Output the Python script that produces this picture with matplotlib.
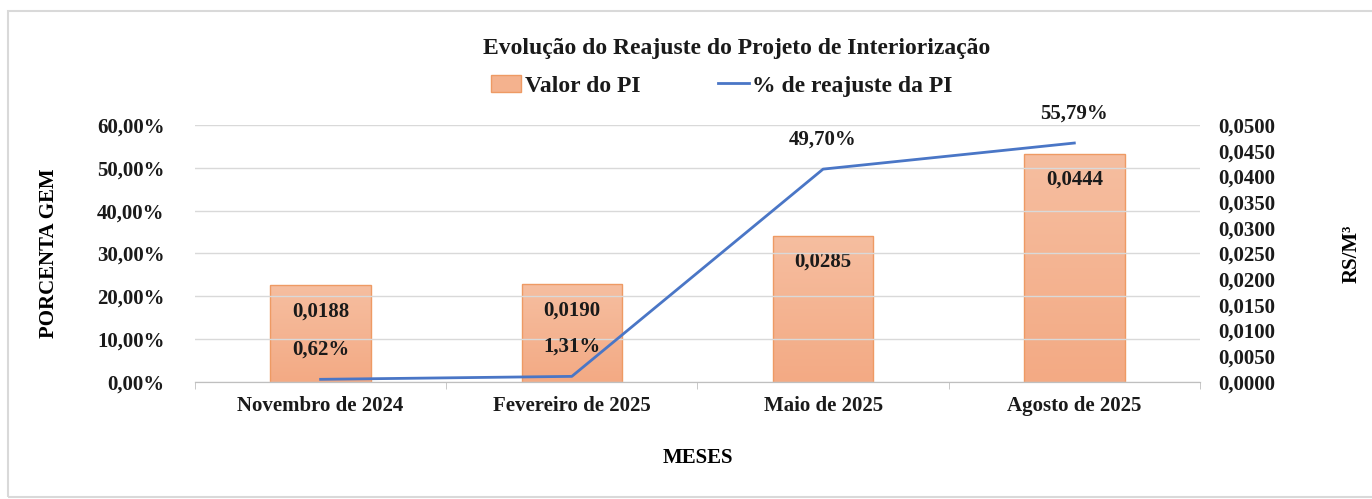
import matplotlib.pyplot as plt
from matplotlib.patches import Rectangle
from matplotlib.lines import Line2D
from matplotlib.colors import LinearSegmentedColormap
import numpy as np

meses = ['Novembro de 2024', 'Fevereiro de 2025', 'Maio de 2025', 'Agosto de 2025']
valor_pi = [0.0188, 0.0190, 0.0285, 0.0444]
reajuste_pct = [0.62, 1.31, 49.70, 55.79]

plt.rcParams['font.family'] = ['Liberation Serif', 'DejaVu Serif']
plt.rcParams['font.weight'] = 'bold'
plt.rcParams['text.color'] = '#1a1a1a'
plt.rcParams['xtick.color'] = '#1a1a1a'
plt.rcParams['ytick.color'] = '#1a1a1a'

FS = 15

def br(v, dec):
    return f'{v:.{dec}f}'.replace('.', ',')

fig = plt.figure(figsize=(13.72, 4.99), dpi=100)
fig.patches.append(Rectangle((8 / 1372, 2 / 499), 1.0, 486 / 499, transform=fig.transFigure,
                             fill=False, edgecolor='#d9d9d9', linewidth=1.5))

ax = fig.add_axes([0.1421, 0.2345, 0.7325, 0.515])
ax2 = ax.twinx()
ax.set_zorder(ax2.get_zorder() + 1)
ax.patch.set_visible(False)

x = np.arange(len(meses))

# bars on the right axis (R$/m3), soft gradient fill
grad = LinearSegmentedColormap.from_list('bar', ['#F3AA84', '#F6BEA0'])
bars = ax2.bar(x, valor_pi, width=0.4, color='none', edgecolor='#EE9A64', linewidth=1, zorder=3)
for b in bars:
    x0, y0 = b.get_x(), b.get_y()
    im = ax2.imshow(np.linspace(0, 1, 100).reshape(-1, 1), cmap=grad, origin='lower',
                    extent=(x0, x0 + b.get_width(), y0, y0 + b.get_height()),
                    aspect='auto', zorder=2)
    im.set_clip_path(b)
ax2.set_xlim(-0.5, 3.5)
ax2.set_ylim(0, 0.05)
for xi, v in zip(x, valor_pi):
    ax2.annotate(br(v, 4), (xi, v), xytext=(0, -26), textcoords='offset points',
                 ha='center', va='bottom', fontsize=FS, fontweight='bold', zorder=4)

# line on the left axis (%)
ax.plot(x, reajuste_pct, color='#4A76C6', linewidth=2)
for xi, v in zip(x, reajuste_pct):
    ax.annotate(br(v, 2) + '%', (xi, v), xytext=(0, 14), textcoords='offset points',
                ha='center', va='bottom', fontsize=FS, fontweight='bold')

ax.set_xlim(-0.5, 3.5)
ax.set_ylim(0, 60)
ax.set_yticks(np.arange(0, 61, 10))
ax.set_yticklabels([br(t, 2) + '%' for t in np.arange(0, 61, 10)], fontsize=FS)
ax2.set_yticks(np.arange(0, 0.0501, 0.005))
ax2.set_yticklabels([br(t, 4) for t in np.arange(0, 0.0501, 0.005)], fontsize=FS)

ax2.grid(False)
ax.grid(axis='y', color='#d9d9d9', linewidth=1)
ax2.set_axisbelow(True)
for a in (ax, ax2):
    for s in ('top', 'left', 'right'):
        a.spines[s].set_visible(False)
    a.spines['bottom'].set_color('#bfbfbf')
ax.tick_params(axis='y', length=0, pad=22)
ax2.tick_params(axis='y', length=0, pad=13)

ax.set_xticks(x)
ax.set_xticklabels(meses, fontsize=FS)
ax.tick_params(axis='x', length=0, pad=10)
ax.set_xticks(np.arange(-0.5, 3.6, 1), minor=True)
ax.tick_params(axis='x', which='minor', length=5, color='#bfbfbf')

ax.set_xlabel('MESES', fontsize=FS, fontweight='bold', labelpad=23)
ax.set_ylabel('PORCENTA GEM', fontsize=FS, fontweight='bold', labelpad=27)
ax2.set_ylabel('RS/M³', fontsize=FS, fontweight='bold', labelpad=48)

fig.text(0.537, 0.903, 'Evolução do Reajuste do Projeto de Interiorização',
         ha='center', va='center', fontsize=17, fontweight='bold')

handles = [Rectangle((0, 0), 1, 1, facecolor='#F4B28E', edgecolor='#EE9A64'),
           Line2D([0], [0], color='#4A76C6', linewidth=2)]
fig.legend(handles, ['Valor do PI', '% de reajuste da PI'], loc='center',
           bbox_to_anchor=(0.526, 0.828), ncol=2, frameon=False, fontsize=17,
           handlelength=1.3, handletextpad=0.15, columnspacing=3.3)

fig.savefig('out.png', dpi=100)
